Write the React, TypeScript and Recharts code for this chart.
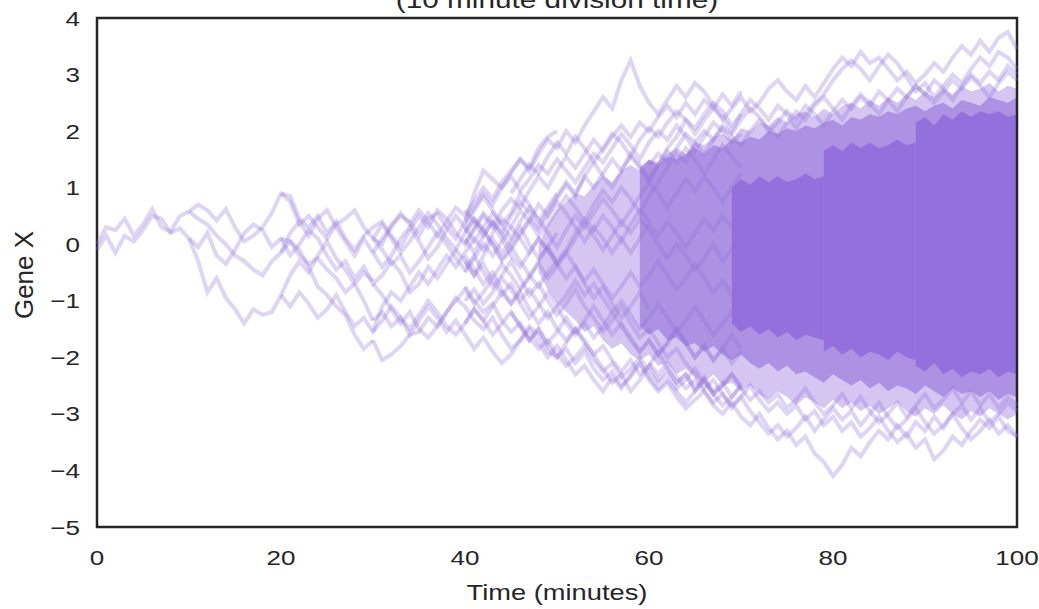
import React from "react";
import { ComposedChart, Line, Area, XAxis, YAxis, ReferenceArea } from "recharts";

// Gene X random walks of a dividing population (one path per cell)
const xTicks = [0, 20, 40, 60, 80, 100];
const yTicks = [-5, -4, -3, -2, -1, 0, 1, 2, 3, 4];

// first cell generations, values every minute
const pathE1 = [0.0, 0.3, 0.25, 0.45, 0.15, 0.35, 0.62, 0.3, 0.22, 0.5, 0.58, 0.7, 0.6, 0.42, 0.62, 0.3, 0.05, 0.15, 0.3, 0.55, 0.9, 0.85, 0.45, 0.3, 0.5, 0.2, 0.4, 0.1, -0.1, 0.15, 0.3];
const pathE2 = [-0.1, 0.15, -0.15, 0.15, 0.05, 0.25, 0.5, 0.45, 0.2, 0.28, 0.1, -0.05, 0.2, -0.2, -0.35, -0.1, 0.2, 0.35, 0.25, -0.05, 0.1, 0.05, -0.2, -0.35, -0.25, -0.45, -0.6, -0.85, -0.7, -0.5, -0.65];
const pathE3 = [0.58, 0.45, 0.35, 0.15, 0.0, -0.2, -0.3, -0.45, -0.55, -0.3, -0.15, 0.05, -0.1, -0.4, -0.75, -0.9, -1.1, -1.25, -1.6, -1.85, -1.7];
const pathE4 = [0.1, -0.3, -0.85, -0.6, -0.95, -1.15, -1.4, -1.15, -1.25, -1.2, -0.9, -0.55, -0.3, -0.5, -0.2, 0.05, -0.25, -0.45, -0.7, -1.0, -1.35];

const pathF1 = [0.9, 0.75, 0.35, 0.5, 0.3, 0.1, 0.35, 0.45, 0.6, 0.3, 0.1, 0.0, 0.35, 0.5, 0.4, 0.15, 0.45, 0.55, 0.3, 0.1, 0.4, 0.9, 1.3, 1.15, 1.0, 1.25, 1.5, 1.35, 1.7, 1.9, 2.0];
const pathF2 = [0.1, -0.2, 0.0, 0.25, 0.1, -0.2, -0.45, -0.3, -0.6, -0.4, -0.7, -0.55, -0.3, -0.5, -0.85, -0.7, -0.4, -0.6, -0.35, -0.1, -0.3, -0.55, -0.2, 0.1, -0.15, 0.05, 0.3, 0.0, -0.25, -0.05, 0.2];
const pathF3 = [-0.9, -1.1, -0.85, -1.05, -1.3, -1.15, -0.9, -1.2, -1.45, -1.3, -1.55, -1.35, -1.1, -1.3, -1.5, -1.25, -1.0, -1.2, -1.45, -1.6, -1.4, -1.15, -1.35, -1.1, -0.85, -1.05, -0.8, -0.55, -0.75, -0.5, -0.3];
const pathF4 = [-0.15, 0.2, 0.4, 0.15, 0.45, 0.6, 0.3, 0.05, -0.2, 0.1, -0.15, -0.4, -0.2, 0.1, 0.3, 0.05, -0.25, -0.05, 0.25, 0.5, 0.3, 0.6, 0.85, 0.6, 0.35, 0.55, 0.9, 0.7, 0.4, 0.65, 0.9];

const pathG1 = [0.1, 0.35, 0.1, -0.15, 0.05, 0.3, 0.55, 0.35, 0.1, -0.1, 0.2, 0.45, 0.25, 0.0, -0.3, -0.1, 0.15, 0.4, 0.7, 0.5, 0.8, 1.05, 0.85, 1.2, 1.45, 1.2, 1.0, 1.3, 1.6, 1.4, 1.15];
const pathG2 = [-1.7, -2.05, -1.95, -1.8, -1.6, -1.55, -1.3, -1.45, -1.2, -0.95, -1.1, -1.35, -1.5, -1.3, -1.6, -1.85, -1.7, -1.45, -1.6, -1.9, -2.0, -1.75, -1.5, -1.7, -1.95, -2.2, -2.45, -2.3, -2.6, -2.4, -2.15];
const pathG3 = [-0.7, -0.9, -1.15, -1.4, -1.2, -1.5, -1.65, -1.45, -1.2, -1.0, -0.8, -1.05, -0.85, -0.6, -0.35, -0.55, -0.8, -0.6, -0.3, -0.05, -0.3, -0.1, 0.2, 0.45, 0.25, 0.5, 0.3, 0.05, 0.35, 0.6, 0.4];
const pathG4 = [0.1, -0.1, -0.35, -0.2, -0.5, -0.3, -0.05, 0.2, 0.0, -0.25, -0.45, -0.2, -0.5, -0.75, -0.55, -0.3, -0.6, -0.9, -0.7, -1.0, -1.25, -1.05, -0.8, -1.1, -1.3, -1.55, -1.35, -1.1, -1.4, -1.65, -1.5];
const pathG5 = [-1.55, -1.1, -0.85, -1.0, -0.75, -0.5, -0.7, -0.45, -0.2, -0.4, -0.15, 0.1, -0.1, 0.2, 0.45, 0.3, 0.6, 0.4, 0.15, 0.35, 0.6, 0.85, 0.65, 0.4, 0.7, 0.95, 0.75, 1.0, 0.8, 0.55, 0.85];
const pathG6 = [-0.15, 0.1, 0.3, 0.55, 0.35, 0.6, 0.4, 0.15, 0.4, 0.65, 0.5, 0.75, 1.0, 0.8, 1.1, 1.3, 1.5, 1.3, 1.6, 1.85, 1.7, 2.0, 1.8, 2.1, 2.35, 2.6, 2.4, 2.9, 3.25, 2.8, 2.5];
const pathG7 = [0.3, 0.4, 0.15, -0.05, 0.25, 0.5, 0.3, 0.6, 0.45, 0.2, 0.0, 0.3, 0.55, 0.35, 0.1, -0.2, -0.4, -0.15, 0.1, -0.1, -0.35, -0.6, -0.4, -0.7, -0.95, -0.75, -1.05, -1.3, -1.1, -0.85, -1.15];
const pathG8 = [-1.35, -1.2, -1.45, -1.3, -1.6, -1.35, -1.1, -1.3, -1.55, -1.35, -1.6, -1.85, -1.65, -1.9, -2.1, -1.95, -1.7, -1.5, -1.75, -2.0, -1.8, -2.05, -2.3, -2.15, -2.4, -2.6, -2.35, -2.55, -2.3, -2.1, -2.4];

const pathH1 = [0.4, 0.65, 0.9, 0.7, 1.0, 1.2, 0.95, 1.15, 1.4, 1.25, 1.5, 1.3, 1.1, 1.35, 1.6, 1.45, 1.7, 1.95, 1.75, 1.5, 1.8, 2.0, 1.85, 2.1, 1.9, 1.65, 1.9, 2.15, 2.0, 1.8, 1.95];
const pathH2 = [-0.75, -1.0, -1.2, -1.05, -1.35, -1.55, -1.4, -1.65, -1.85, -1.7, -1.95, -2.15, -2.0, -1.8, -2.05, -2.25, -2.1, -2.35, -2.2, -2.0, -2.25, -2.45, -2.3, -2.55, -2.4, -2.2, -2.45, -2.65, -2.5, -2.3, -2.5];
const pathH3 = [0.1, -0.15, 0.15, 0.4, 0.2, 0.5, 0.75, 0.55, 0.3, 0.6, 0.85, 1.1, 0.9, 1.2, 1.0, 1.25, 1.5, 1.3, 1.55, 1.35, 1.1, 1.4, 1.65, 1.45, 1.7, 1.5, 1.25, 1.5, 1.75, 1.55, 1.35];
const pathH4 = [-0.3, -0.55, -0.35, -0.65, -0.9, -0.7, -1.0, -0.8, -1.05, -1.3, -1.1, -1.4, -1.6, -1.4, -1.65, -1.45, -1.2, -1.45, -1.7, -1.9, -1.7, -1.95, -1.75, -1.5, -1.75, -2.0, -1.8, -2.05, -1.85, -1.6, -1.85];
const pathH5 = [0.9, 1.15, 1.4, 1.25, 1.55, 1.8, 1.6, 1.9, 1.7, 1.45, 1.7, 1.95, 1.8, 1.55, 1.85, 2.05, 1.9, 2.15, 2.35, 2.2, 1.95, 2.2, 2.4, 2.25, 2.0, 2.3];
const pathH6 = [-1.2, -1.45, -1.7, -1.5, -1.8, -2.0, -1.85, -2.1, -1.9, -2.2, -2.4, -2.25, -2.5, -2.35, -2.1, -2.35, -2.55, -2.4, -2.6, -2.8, -2.6, -2.4, -2.65, -2.85, -2.7, -2.5];

const pathI1 = [0.3, 0.05, 0.3, 0.55, 0.35, 0.1, 0.4, 0.65, 0.45, 0.2, -0.05, 0.25, 0.5, 0.3, 0.55, 0.8, 0.6, 0.35, 0.6, 0.85, 1.1, 0.9, 0.65, 0.9, 1.15, 0.95, 1.2, 1.0, 0.75, 1.0, 1.25];
const pathI2 = [-0.5, -0.25, 0.0, -0.2, 0.05, 0.3, 0.1, -0.15, 0.1, -0.1, -0.35, -0.15, 0.1, 0.35, 0.15, -0.1, 0.15, 0.4, 0.2, 0.45, 0.25, 0.0, -0.25, 0.0, -0.2, -0.45, -0.25, 0.0, -0.3, -0.1, 0.15];
const pathI3 = [-1.0, -0.8, -1.05, -0.85, -0.6, -0.8, -1.05, -1.3, -1.1, -0.85, -1.1, -0.9, -0.65, -0.9, -0.7, -0.95, -1.2, -1.0, -1.25, -1.5, -1.3, -1.05, -1.3, -1.55, -1.35, -1.1, -1.35, -1.6, -1.4, -1.2, -1.45];
const pathI4 = [0.6, 0.4, 0.15, 0.4, 0.2, -0.05, 0.2, 0.45, 0.25, 0.5, 0.75, 0.55, 0.3, 0.05, 0.3, 0.1, -0.15, 0.1, -0.15, 0.1, 0.35, 0.15, 0.4, 0.2, -0.05, 0.2, 0.45, 0.25, 0.5, 0.3, 0.55];
const pathI5 = [-0.2, -0.45, -0.7, -0.5, -0.8, -1.05, -0.85, -1.15, -1.4, -1.2, -1.5, -1.7, -1.5, -1.75, -1.95, -1.8, -2.05, -2.25, -2.05, -2.3, -2.15, -2.4, -2.2, -2.45, -2.3, -2.55, -2.35, -2.6, -2.45, -2.7, -2.5];
const pathI6 = [0.0, 0.25, 0.5, 0.3, 0.6, 0.8, 0.65, 0.95, 1.2, 1.0, 1.3, 1.55, 1.35, 1.6, 1.85, 1.65, 1.9, 2.1, 1.9, 2.15, 2.0, 2.25, 2.45, 2.25, 2.5, 2.3, 2.55, 2.4, 2.65, 2.45, 2.7];
const pathI7 = [-1.4, -1.15, -1.35, -1.6, -1.4, -1.2, -1.45, -1.7, -1.5, -1.75, -1.55, -1.3, -1.55, -1.35, -1.1, -1.35, -1.6, -1.4, -1.65, -1.9, -1.7, -1.95, -1.75, -1.5, -1.75, -2.0, -1.8, -2.05, -1.85, -2.1, -1.9];
const pathI8 = [0.2, 0.45, 0.25, 0.0, -0.25, -0.05, -0.3, -0.55, -0.35, -0.6, -0.4, -0.15, -0.4, -0.65, -0.45, -0.7, -0.95, -0.75, -0.5, -0.75, -0.55, -0.3, -0.55, -0.8, -0.6, -0.35, -0.6, -0.85, -0.65, -0.9, -0.7];

// late cells that wander outside the dense cloud
const pathO1 = [2.5, 2.3, 2.55, 2.8, 2.6, 2.85, 2.7, 2.45, 2.2, 2.4, 2.6, 2.35, 2.5, 2.75, 2.9, 2.7, 2.55, 2.8, 2.6, 2.85, 3.1, 3.3, 3.15, 3.4, 3.2, 3.3, 3.1, 2.9, 3.05, 2.85, 3.0, 3.2, 3.05, 3.3, 3.5, 3.35, 3.6, 3.4, 3.65, 3.75, 3.45];
const pathO2 = [1.15, 1.4, 1.7, 1.9, 2.2, 2.05, 2.3, 2.5, 2.35, 2.1, 2.3, 2.55, 2.4, 2.2, 2.45, 2.3, 2.05, 2.3, 2.5, 2.65, 2.9, 3.1, 3.25, 3.1, 2.9, 3.15, 3.35, 3.2, 2.95, 2.7, 2.85, 2.6, 2.8, 3.0, 2.85, 3.1, 3.3, 3.15, 3.4, 3.3, 3.1];
const pathO3 = [0.85, 1.1, 1.35, 1.6, 1.45, 1.8, 2.0, 1.85, 2.1, 1.95, 2.2, 2.4, 2.25, 2.0, 2.15, 2.35, 2.2, 2.45, 2.3, 2.1, 2.35, 2.55, 2.4, 2.6, 2.45, 2.7, 2.55, 2.35, 2.6, 2.8, 2.65, 2.9, 2.75, 2.55, 2.8, 3.0, 2.85, 3.05, 2.9, 3.15, 3.0];
const pathO4 = [1.4, 1.6, 1.45, 1.7, 1.95, 1.8, 1.6, 1.85, 2.05, 1.9, 1.75, 2.0, 2.2, 2.05, 1.9, 2.15, 2.35, 2.2, 2.45, 2.6, 2.4, 2.2, 2.45, 2.65, 2.5, 2.3, 2.55, 2.75, 2.6, 2.8, 2.65, 2.5, 2.7, 2.9, 2.75, 2.95, 2.8, 2.6, 2.85, 3.05, 2.9];
const pathO5 = [-2.4, -2.6, -2.45, -2.7, -2.9, -2.75, -2.6, -2.85, -3.0, -2.8, -3.05, -3.2, -3.0, -3.25, -3.45, -3.3, -3.55, -3.4, -3.7, -3.85, -4.1, -3.9, -3.6, -3.75, -3.5, -3.3, -3.45, -3.2, -3.4, -3.15, -3.3, -3.05, -3.25, -3.0, -2.85, -3.1, -2.9, -3.15, -3.0, -2.8, -2.95];
const pathO6 = [-2.1, -2.3, -2.1, -2.35, -2.55, -2.4, -2.6, -2.8, -2.65, -2.9, -2.7, -2.5, -2.75, -2.95, -2.8, -3.0, -2.85, -3.1, -2.95, -3.2, -3.05, -3.3, -3.15, -3.4, -3.25, -3.05, -3.3, -3.5, -3.35, -3.6, -3.45, -3.8, -3.65, -3.4, -3.55, -3.3, -3.1, -3.25, -3.05, -3.3, -3.4];
const pathO7 = [-1.5, -1.75, -2.0, -1.85, -2.1, -2.3, -2.55, -2.4, -2.65, -2.85, -2.7, -2.95, -3.15, -3.35, -3.2, -3.4, -3.25, -3.05, -3.3, -3.1, -2.9, -3.1, -2.95, -3.2, -3.0, -2.8, -3.05, -3.25, -3.1, -2.9, -3.15, -3.35, -3.2, -3.0, -3.25, -3.45, -3.3, -3.1, -3.35, -3.2, -3.4];
const pathO8 = [-2.15, -1.9, -2.2, -2.45, -2.3, -2.6, -2.4, -2.65, -2.5, -2.3, -2.55, -2.75, -2.6, -2.8, -2.65, -2.9, -2.75, -2.55, -2.8, -3.0, -2.85, -2.65, -2.9, -2.7, -2.95, -3.15, -3.0, -2.8, -3.05, -2.85, -2.65, -2.9, -2.75, -2.55, -2.8, -2.6, -2.85, -2.65, -2.9, -2.7, -2.85];

// where hundreds of cells overlap: envelope of the cloud (min, max) each minute
const midStart = 48;
const midLo = [-0.5, -0.8, -1.05, -1.2, -1.35, -1.55, -1.45, -1.7, -1.85, -1.75, -1.95, -2.05, -1.95, -2.15, -2.1, -2.3, -2.2, -2.35, -2.45, -2.3, -2.5, -2.45, -2.6, -2.5, -2.65, -2.75, -2.6, -2.7, -2.85, -2.7, -2.8, -2.9, -2.75, -2.9, -2.8, -2.95, -2.85, -3.0, -2.9, -2.8, -2.95, -3.05, -2.9, -3.0, -2.85, -3.0, -3.1, -2.95, -3.05, -2.9, -3.0, -3.1, -3.0];
const midHi = [0.0, 0.35, 0.6, 0.75, 0.9, 0.85, 1.05, 1.2, 1.1, 1.3, 1.4, 1.3, 1.5, 1.45, 1.6, 1.7, 1.6, 1.8, 1.75, 1.9, 1.95, 1.85, 2.05, 2.0, 2.15, 2.1, 2.25, 2.15, 2.3, 2.35, 2.25, 2.4, 2.3, 2.45, 2.5, 2.4, 2.55, 2.45, 2.6, 2.5, 2.65, 2.55, 2.7, 2.6, 2.75, 2.65, 2.8, 2.7, 2.75, 2.85, 2.7, 2.8, 2.75];

const denseStart = 59;
const denseLo = [-1.45, -1.6, -1.5, -1.7, -1.65, -1.8, -1.75, -1.9, -1.8, -1.95, -2.05, -1.95, -2.1, -2.2, -2.1, -2.25, -2.15, -2.3, -2.25, -2.35, -2.45, -2.3, -2.4, -2.5, -2.4, -2.55, -2.45, -2.6, -2.5, -2.55, -2.65, -2.5, -2.6, -2.7, -2.55, -2.65, -2.6, -2.7, -2.6, -2.75, -2.65, -2.7];
const denseHi = [1.35, 1.5, 1.4, 1.55, 1.5, 1.6, 1.7, 1.6, 1.75, 1.7, 1.85, 1.8, 1.9, 1.85, 2.0, 1.95, 2.05, 2.0, 2.1, 2.05, 2.15, 2.2, 2.1, 2.25, 2.2, 2.3, 2.25, 2.35, 2.3, 2.4, 2.45, 2.35, 2.45, 2.5, 2.4, 2.55, 2.5, 2.45, 2.6, 2.55, 2.5, 2.6];

// solid core, one block per generation (69, 79, 89 min)
const core1Lo = [-1.4, -1.55, -1.45, -1.6, -1.5, -1.65, -1.55, -1.7, -1.6, -1.65, -1.7];
const core1Hi = [1.0, 1.15, 1.05, 1.2, 1.1, 1.2, 1.1, 1.15, 1.25, 1.15, 1.2];
const core2Lo = [-1.9, -1.8, -1.95, -1.85, -2.0, -1.9, -1.95, -2.05, -1.9, -2.0, -2.05];
const core2Hi = [1.65, 1.75, 1.65, 1.8, 1.7, 1.8, 1.7, 1.75, 1.85, 1.75, 1.8];
const core3Lo = [-2.15, -2.25, -2.1, -2.3, -2.2, -2.35, -2.25, -2.3, -2.2, -2.35, -2.25, -2.3];
const core3Hi = [2.15, 2.25, 2.1, 2.3, 2.2, 2.35, 2.25, 2.35, 2.3, 2.35, 2.25, 2.3];

const paths: [number, number[]][] = [
  [0, pathE1], [0, pathE2], [10, pathE3], [10, pathE4],
  [20, pathF1], [20, pathF2], [20, pathF3], [20, pathF4],
  [30, pathG1], [30, pathG2], [30, pathG3], [30, pathG4], [30, pathG5], [30, pathG6], [30, pathG7], [30, pathG8],
  [40, pathH1], [40, pathH2], [40, pathH3], [40, pathH4], [45, pathH5], [45, pathH6],
  [40, pathI1], [40, pathI2], [40, pathI3], [40, pathI4], [40, pathI5], [40, pathI6], [40, pathI7], [40, pathI8],
  [60, pathO1], [60, pathO2], [60, pathO3], [60, pathO4], [60, pathO5], [60, pathO6], [60, pathO7], [60, pathO8],
];

const bands: { start: number; lo: number[]; hi: number[]; opacity: number }[] = [
  { start: midStart, lo: midLo, hi: midHi, opacity: 0.4 },
  { start: denseStart, lo: denseLo, hi: denseHi, opacity: 0.6 },
  { start: 69, lo: core1Lo, hi: core1Hi, opacity: 1 },
  { start: 79, lo: core2Lo, hi: core2Hi, opacity: 1 },
  { start: 89, lo: core3Lo, hi: core3Hi, opacity: 1 },
];

const PURPLE = "#9370DB";
const INK = "#262626";
const FONT = "'Liberation Sans', Arial, sans-serif";
const STRETCH = 1.24;

const minus = (v: number) => (v < 0 ? "\u2212" + Math.abs(v) : String(v));

const XTick = (props: any) => {
  const { x, y, payload } = props;
  return (
    <g transform={`translate(${x},${y})`}>
      <text transform={`scale(${STRETCH},1)`} textAnchor="middle" dy={30} fontSize={21} fill={INK} fontFamily={FONT}>
        {minus(payload.value)}
      </text>
    </g>
  );
};

const YTick = (props: any) => {
  const { x, y, payload } = props;
  return (
    <g transform={`translate(${x - 9},${y})`}>
      <text transform={`scale(${STRETCH},1)`} textAnchor="end" dy={7.5} fontSize={21} fill={INK} fontFamily={FONT}>
        {minus(payload.value)}
      </text>
    </g>
  );
};

export default function App() {
  const lineData = paths.map(([start, vals]) => vals.map((v, i) => ({ t: start + i, v })));
  const bandData = bands.map((b) => b.lo.map((lo, i) => ({ t: b.start + i, range: [lo, b.hi[i]] })));

  return (
    <div style={{ position: "absolute", left: 0, top: 0, width: 1039, height: 609, background: "#fff" }}>
      <ComposedChart width={1039} height={609} margin={{ top: 18, right: 22, bottom: 0, left: 0 }}>
        <XAxis type="number" dataKey="t" domain={[0, 100]} ticks={xTicks} height={82}
          axisLine={false} tickLine={false} tick={XTick} interval={0} />
        <YAxis type="number" domain={[-5, 4]} ticks={yTicks} width={97}
          axisLine={false} tickLine={false} tick={YTick} interval={0} allowDataOverflow />
        {bandData.map((d, i) => (
          <Area key={"band" + i} data={d} dataKey="range" type="linear" stroke="none"
            fill={PURPLE} fillOpacity={bands[i].opacity} isAnimationActive={false} activeDot={false} />
        ))}
        {lineData.map((d, i) => (
          <Line key={"cell" + i} data={d} dataKey="v" type="linear" stroke={PURPLE} strokeOpacity={0.3}
            strokeWidth={4} dot={false} activeDot={false} isAnimationActive={false} />
        ))}
        <ReferenceArea x1={0} x2={100} y1={-5} y2={4} fill="none" stroke={INK} strokeWidth={2.5} />
      </ComposedChart>
      <svg width={1039} height={609} style={{ position: "absolute", left: 0, top: 0, pointerEvents: "none" }}>
        <g transform={`translate(557,7.5) scale(${STRETCH},1)`}>
          <text textAnchor="middle" fontSize={24} fill={INK} fontFamily={FONT}>(10 minute division time)</text>
        </g>
        <g transform={`translate(557,600) scale(${STRETCH},1)`}>
          <text textAnchor="middle" fontSize={22} fill={INK} fontFamily={FONT}>Time (minutes)</text>
        </g>
        <g transform="translate(33,275) rotate(-90)">
          <text textAnchor="middle" fontSize={26} fill={INK} fontFamily={FONT}>Gene X</text>
        </g>
      </svg>
    </div>
  );
}
